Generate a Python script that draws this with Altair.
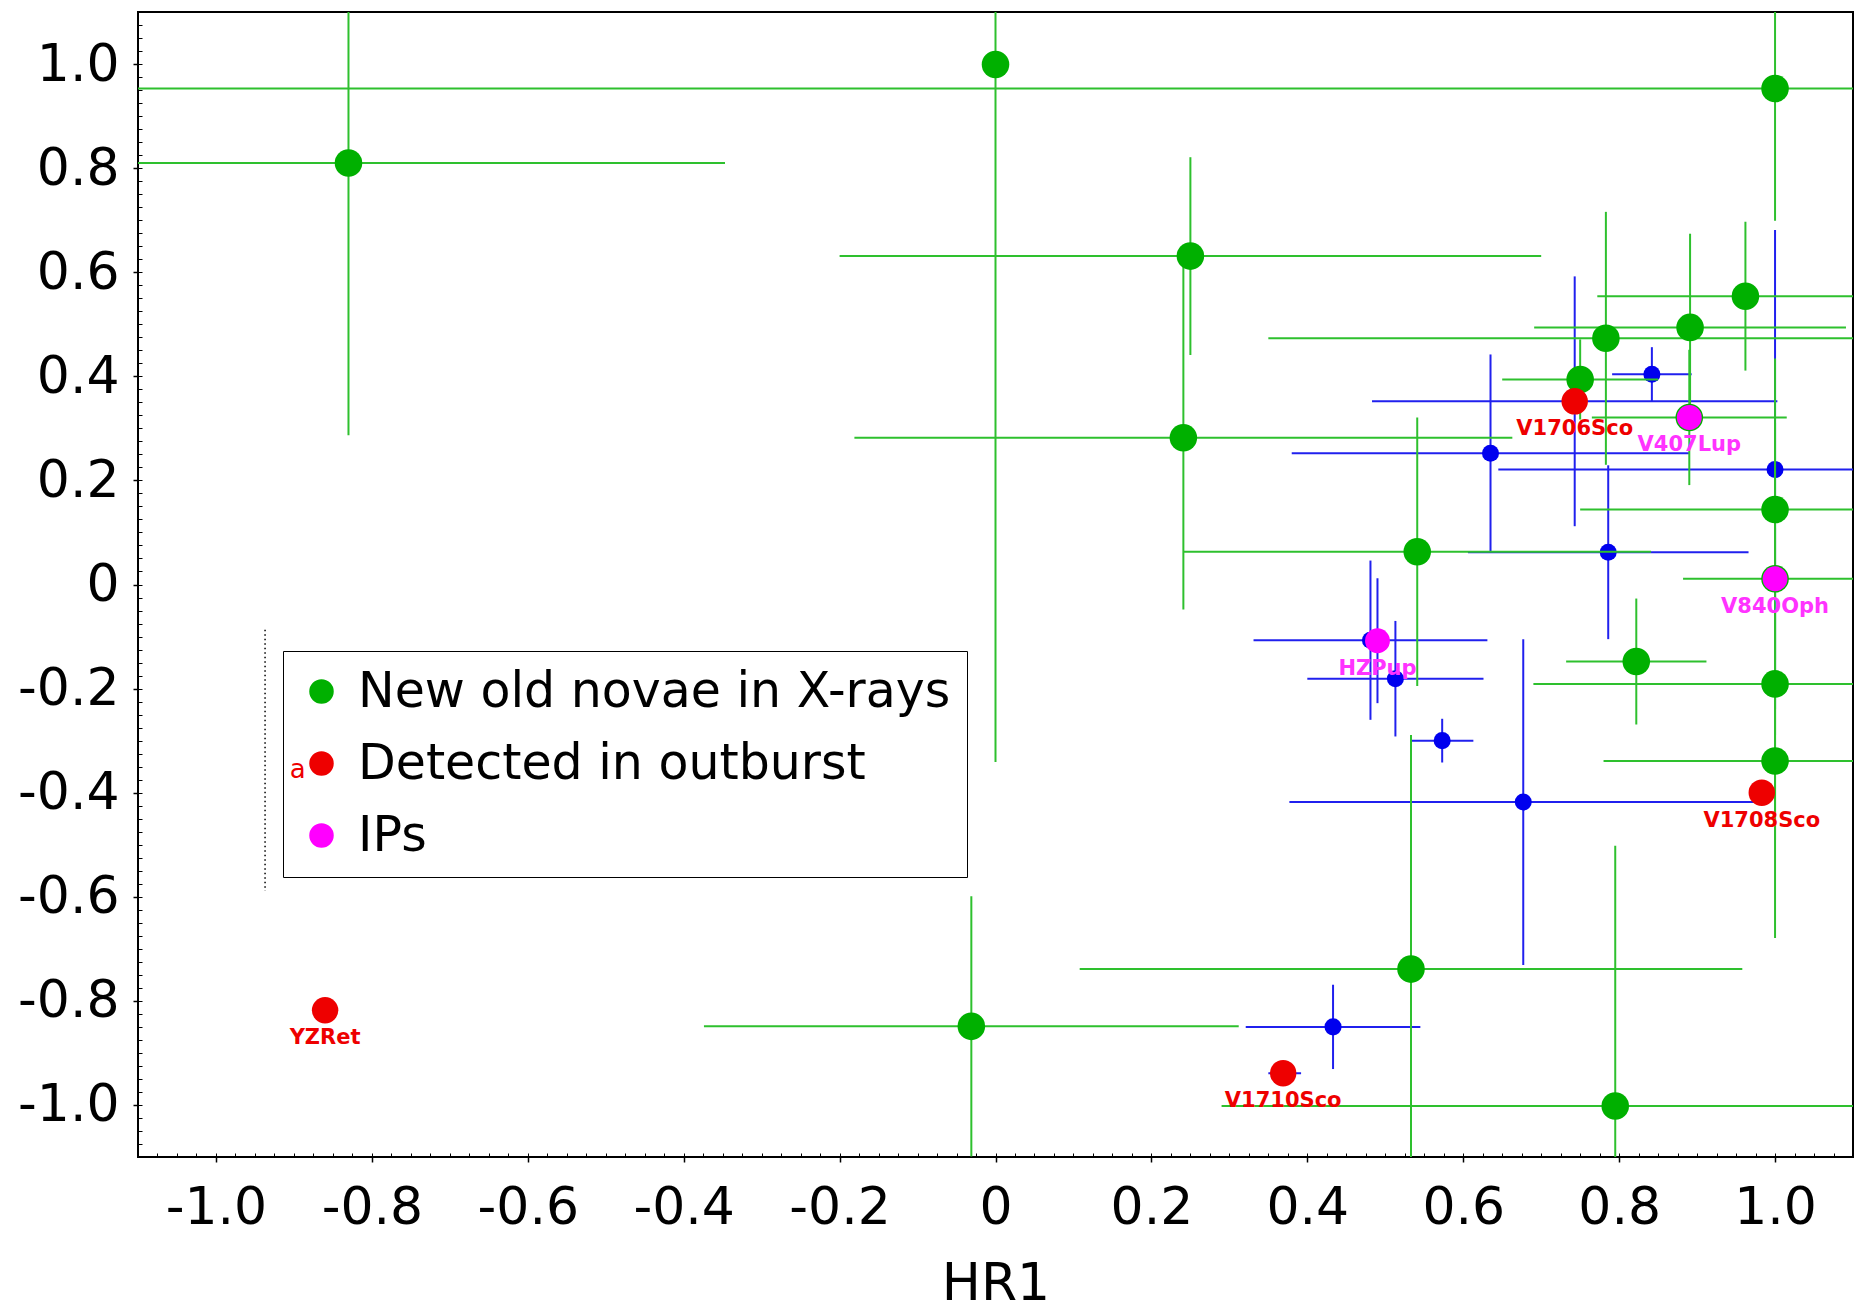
import altair as alt
import pandas as pd

# ---------------- data ----------------
# Green: new old novae in X-rays (HR1, HR2 with symmetric errors)
g_x    = [-0.830, 0.000, 0.250, 0.241, 0.541, 0.783, 0.750, 0.891, 0.962, 1.000, 1.000, 1.000, 1.000, 0.822, 0.533, -0.031, 0.795, 0.890, 1.000]
g_y    = [0.810, 0.999, 0.631, 0.282, 0.063, 0.473, 0.394, 0.494, 0.554, 0.953, 0.144, -0.191, -0.339, -0.148, -0.739, -0.849, -1.002, 0.321, 0.011]
g_xerr = [0.483, 0.000, 0.450, 0.422, 0.300, 0.433, 0.100, 0.200, 0.190, 2.300, 0.250, 0.310, 0.220, 0.090, 0.425, 0.343, 0.505, 0.125, 0.118]
g_yerr = [0.523, 1.340, 0.190, 0.330, 0.258, 0.243, 0.077, 0.180, 0.143, 0.254, 0.290, 0.300, 0.340, 0.121, 0.450, 0.250, 0.500, 0.130, 0.300]

# Blue: other sources
b_x    = [0.842, 0.635, 1.000, 0.786, 0.481, 0.490, 0.513, 0.573, 0.677, 0.433, 0.743, 0.371]
b_y    = [0.404, 0.252, 0.221, 0.062, -0.107, -0.108, -0.181, -0.300, -0.418, -0.850, 0.352, -0.939]
b_xerr = [0.051, 0.255, 0.355, 0.180, 0.150, 0.000, 0.113, 0.040, 0.300, 0.112, 0.260, 0.021]
b_yerr = [0.052, 0.190, 0.460, 0.167, 0.153, 0.120, 0.111, 0.042, 0.313, 0.081, 0.240, 0.000]

# Red: detected in outburst
r_name = ["YZRet", "V1710Sco", "V1706Sco", "V1708Sco"]
r_x    = [-0.860, 0.369, 0.743, 0.983]
r_y    = [-0.818, -0.939, 0.352, -0.400]

# Magenta: intermediate polars
m_name = ["HZPup", "V407Lup", "V840Oph"]
m_x    = [0.490, 0.890, 1.000]
m_y    = [-0.108, 0.321, 0.011]

cats   = ["New old novae in X-rays", "Detected in outburst", "IPs"]
cat_colors = ["#00b000", "#ee0000", "#ff00ff"]

x_ticks = [-1.0, -0.8, -0.6, -0.4, -0.2, 0.0, 0.2, 0.4, 0.6, 0.8, 1.0]
y_ticks = [-1.0, -0.8, -0.6, -0.4, -0.2, 0.0, 0.2, 0.4, 0.6, 0.8, 1.0]
minor_ticks = [round(-1.1 + 0.025 * i, 3) for i in range(89)]

# stray annotation marks seen in the figure
note_x, note_y, note_text = [-0.895], [-0.356], ["a"]
dot_x, dot_y1, dot_y2 = [-0.937], [-0.087], [-0.589]

# ---------------- tables ----------------
green = pd.DataFrame({"x": g_x, "y": g_y, "xerr": g_xerr, "yerr": g_yerr})
blue = pd.DataFrame({"x": b_x, "y": b_y, "xerr": b_xerr, "yerr": b_yerr})

pts_rows = []
for i, (x, y) in enumerate(zip(g_x, g_y)):
    pts_rows.append({"x": x, "y": y, "cat": cats[0], "sz": 760, "idx": i})
for j, (x, y) in enumerate(zip(r_x, r_y)):
    pts_rows.append({"x": x, "y": y, "cat": cats[1], "sz": 700, "idx": 100 + j})
for k, (x, y) in enumerate(zip(m_x, m_y)):
    pts_rows.append({"x": x, "y": y, "cat": cats[2], "sz": 620, "idx": 200 + k})
pts = pd.DataFrame(pts_rows)

red_lab = pd.DataFrame({"x": r_x, "y": r_y, "name": r_name})
mag_lab = pd.DataFrame({"x": m_x, "y": m_y, "name": m_name})
note = pd.DataFrame({"x": note_x, "y": note_y, "t": note_text})
dots = pd.DataFrame({"x": dot_x, "y1": dot_y1, "y2": dot_y2})

FONT = "DejaVu Sans"
xs = alt.Scale(domain=[-1.1, 1.1], nice=False, zero=False)
ys = alt.Scale(domain=[-1.1, 1.1], nice=False, zero=False)
lab_expr = ("datum.value == 0 ? '0' : (datum.value < 0 ? '-' + format(-datum.value, '.1f')"
            " : format(datum.value, '.1f'))")

major_x = alt.Axis(values=x_ticks, labelExpr=lab_expr, tickSize=5, tickColor="black",
                   tickWidth=1.5, labelFontSize=52, labelFont=FONT, labelColor="black",
                   labelPadding=20, grid=False, domain=False, title="HR1",
                   titleFont=FONT, titleFontSize=52, titleFontWeight="normal",
                   titleColor="black", titlePadding=25, orient="bottom")
major_y = alt.Axis(values=y_ticks, labelExpr=lab_expr, tickSize=5, tickColor="black",
                   tickWidth=1.5, labelFontSize=52, labelFont=FONT, labelColor="black",
                   labelPadding=14, grid=False, domain=False, title="", orient="left")
minor_x = alt.Axis(values=minor_ticks, tickSize=4, tickColor="black", tickWidth=1,
                   labels=False, domain=False, grid=False, title="", offset=-4,
                   orient="bottom")
minor_y = alt.Axis(values=minor_ticks, tickSize=4, tickColor="black", tickWidth=1,
                   labels=False, domain=False, grid=False, title="", offset=-4,
                   orient="left")


def err_layers(df, line_color, pt_color=None, pt_size=None):
    base = alt.Chart(df).transform_calculate(
        x1="datum.x - datum.xerr", x2="datum.x + datum.xerr",
        y1="datum.y - datum.yerr", y2="datum.y + datum.yerr")
    h = base.mark_rule(color=line_color, strokeWidth=2, clip=True).encode(
        x=alt.X("x1:Q", scale=xs, axis=None), x2="x2:Q",
        y=alt.Y("y:Q", scale=ys, axis=None))
    v = base.mark_rule(color=line_color, strokeWidth=2, clip=True).encode(
        x=alt.X("x:Q", scale=xs, axis=None),
        y=alt.Y("y1:Q", scale=ys, axis=None), y2="y2:Q")
    out = [h, v]
    if pt_color is not None:
        p = base.mark_circle(color=pt_color, opacity=1, size=pt_size, clip=True).encode(
            x=alt.X("x:Q", scale=xs, axis=None), y=alt.Y("y:Q", scale=ys, axis=None))
        out.append(p)
    return out


# axes carriers
axis_major = alt.Chart(pts).mark_point(opacity=0).encode(
    x=alt.X("x:Q", scale=xs, axis=major_x), y=alt.Y("y:Q", scale=ys, axis=major_y))
axis_minor = alt.Chart(pts).mark_point(opacity=0).encode(
    x=alt.X("x:Q", scale=xs, axis=minor_x), y=alt.Y("y:Q", scale=ys, axis=minor_y))

blue_layers = err_layers(blue, "#2020ee", "#0000ee", 290)
green_layers = err_layers(green, "#2ec02e")

points = alt.Chart(pts).mark_circle(opacity=1, clip=True).encode(
    x=alt.X("x:Q", scale=xs, axis=None),
    y=alt.Y("y:Q", scale=ys, axis=None),
    color=alt.Color("cat:N", scale=alt.Scale(domain=cats, range=cat_colors),
                    legend=alt.Legend(title=None, orient="none", legendX=145, legendY=639,
                                      padding=16, rowPadding=22, labelFontSize=49,
                                      labelFont=FONT, labelColor="black", labelLimit=0,
                                      symbolSize=600, symbolType="circle",
                                      symbolStrokeWidth=0, symbolOffset=-2,
                                      labelOffset=12, strokeColor="black",
                                      fillColor="transparent")),
    size=alt.Size("sz:Q", scale=None, legend=None),
    order=alt.Order("idx:Q"))

red_text = alt.Chart(red_lab).mark_text(color="#ee0000", font=FONT, fontSize=21,
                                         fontWeight="bold", dy=28, baseline="middle",
                                         align="center").encode(
    x=alt.X("x:Q", scale=xs, axis=None), y=alt.Y("y:Q", scale=ys, axis=None), text="name:N")
mag_text = alt.Chart(mag_lab).mark_text(color="#ff33ff", font=FONT, fontSize=21,
                                         fontWeight="bold", dy=28, baseline="middle",
                                         align="center").encode(
    x=alt.X("x:Q", scale=xs, axis=None), y=alt.Y("y:Q", scale=ys, axis=None), text="name:N")
note_text_l = alt.Chart(note).mark_text(color="#ee0000", font=FONT, fontSize=26,
                                         baseline="middle", align="center").encode(
    x=alt.X("x:Q", scale=xs, axis=None), y=alt.Y("y:Q", scale=ys, axis=None), text="t:N")
dotted = alt.Chart(dots).mark_rule(color="black", strokeWidth=1.5, strokeDash=[1.5, 3]).encode(
    x=alt.X("x:Q", scale=xs, axis=None),
    y=alt.Y("y1:Q", scale=ys, axis=None), y2="y2:Q")

chart = alt.layer(
    axis_major, axis_minor, dotted, *blue_layers, *green_layers, points,
    red_text, mag_text, note_text_l
).resolve_axis(x="independent", y="independent").properties(
    width=1715, height=1145,
    padding={"left": 138, "top": 12, "right": 10, "bottom": 153},
    autosize=alt.AutoSizeParams(type="none"),
    background="white",
).configure_view(stroke="black", strokeWidth=2)

chart.save("out.html", embed_options={"renderer": "svg", "actions": False})
